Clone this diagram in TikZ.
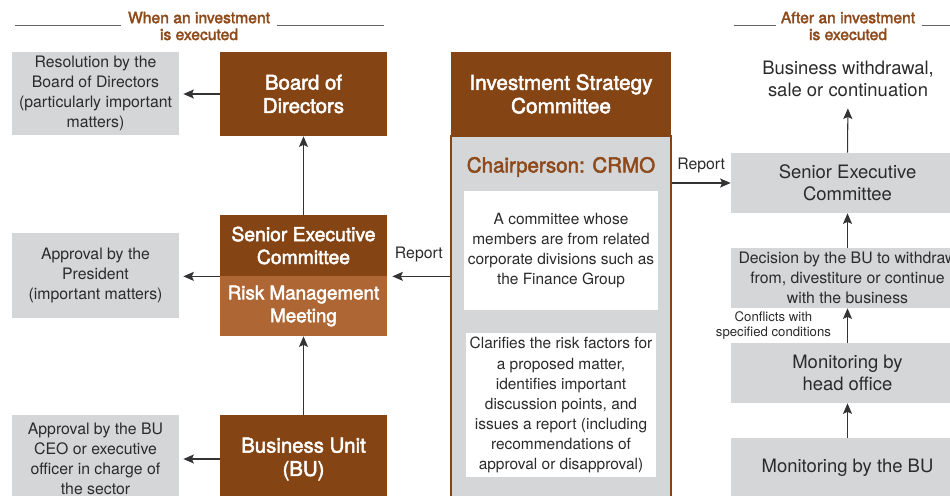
\documentclass[tikz,border=0pt]{standalone}
\usepackage{fontspec}
\setmainfont{TeX Gyre Heros}
\newfontfamily\medfont[FakeBold=2.4]{TeX Gyre Heros}
\usetikzlibrary{positioning, arrows.meta}
\definecolor{brownD}{HTML}{844414}
\definecolor{brownL}{HTML}{AE6734}
\definecolor{hdbrown}{HTML}{8E4A1A}
\definecolor{boxgray}{HTML}{D5D6D8}
\definecolor{txt}{HTML}{2B2B2B}
\definecolor{linegray}{HTML}{333333}
\tikzset{
  gbox/.style={fill=boxgray, text=txt, align=center, inner sep=2pt,
    minimum width=#1, font=\fontsize{9}{11.4}\selectfont},
  gbox/.default=3.34cm,
  bbox/.style={fill=brownD, text=white, align=center, inner sep=2pt,
    minimum width=#1, font=\medfont\fontsize{11.6}{13.3}\selectfont},
  bbox/.default=3.34cm,
  wbox/.style={fill=white, text=txt, align=center, inner sep=2pt,
    minimum width=3.8cm, font=\fontsize{8.8}{11.4}\selectfont},
  big/.style={font=\fontsize{10.5}{12.8}\selectfont},
  hd/.style={text=hdbrown, align=center, inner sep=0pt,
    font=\medfont\fontsize{8.9}{9.6}\selectfont},
  rule/.style={draw=gray!80!black, line width=0.5pt},
  arr/.style={draw=linegray, line width=0.6pt, -{Stealth[length=2.1mm, width=1.8mm, inset=0.4mm]}},
  lbl/.style={text=txt, inner sep=0pt, align=center, font=\fontsize{9}{11}\selectfont},
  small/.style={text=txt, inner sep=0pt, align=center, font=\fontsize{7.5}{8.8}\selectfont},
}

\begin{document}
\begin{tikzpicture}
\useasboundingbox (0,0) rectangle (19,-9.9);
\clip (0,0) rectangle (19,-9.9);

% ── When an investment is executed ──────────────────────────
\node[hd] (hdL) at (3.98,-0.52) {When an investment\\is executed};
\draw[rule] ([xshift=-0.13cm, yshift=0.02cm]hdL.west) -- ++(-2.12,0);
\draw[rule] ([xshift=0.13cm, yshift=0.02cm]hdL.east) -- ++(2.14,0);

\node[gbox, minimum height=1.66cm] (res) at (1.91,-1.87) {Resolution by the\\
  Board of Directors\\ (particularly important\\ matters)};
\node[gbox, minimum height=1.70cm] (pres) at (1.91,-5.51) {Approval by the\\
  President\\ (important matters)};
\node[gbox, minimum height=1.76cm] (buceo) at (1.91,-9.18) {Approval by the BU\\
  CEO or executive\\ officer in charge of\\ the sector};

\node[bbox, minimum height=1.68cm] (bod) at (6.07,-1.88) {Board of\\Directors};
\node[bbox, minimum height=1.22cm, font=\medfont\fontsize{11}{13}\selectfont]
  (sec) at (6.07,-4.91) {Senior Executive\\Committee};
\node[bbox, fill=brownL, minimum height=1.20cm, font=\medfont\fontsize{10.7}{13}\selectfont]
  (rmm) at (6.07,-6.12) {Risk Management\\Meeting};
\node[bbox, minimum height=1.76cm] (bu) at (6.07,-9.18) {Business Unit\\(BU)};

% ── Investment Strategy Committee ───────────────────────────
\node[fill=boxgray, draw=brownD, line width=0.8pt, minimum width=4.4cm,
  minimum height=7.38cm] (iscb) at (11.22,-6.41) {};
\node[bbox=4.4cm, minimum height=1.68cm, font=\medfont\fontsize{11.8}{13.3}\selectfont]
  (isc) at (11.22,-1.88) {Investment Strategy\\Committee};
\node[text=hdbrown, font=\medfont\fontsize{11.7}{13}\selectfont]
  (chair) at (11.22,-3.34) {Chairperson: CRMO};
\node[wbox, minimum height=2.38cm] (memb) at (11.22,-5.01) {A committee whose\\
  members are from related\\ corporate divisions such as\\ the Finance Group};
\node[wbox, minimum height=2.88cm] (role) at (11.22,-8.10) {Clarifies the risk factors for\\
  a proposed matter,\\ identifies important\\ discussion points, and\\
  issues a report (including\\ recommendations of\\ approval or disapproval)};

% ── After an investment is executed ─────────────────────────
\node[hd] (hdR) at (16.96,-0.52) {After an investment\\is executed};
\draw[rule] ([xshift=-0.1cm, yshift=0.02cm]hdR.west) -- ++(-0.84,0);
\draw[rule] ([xshift=0.12cm, yshift=0.02cm]hdR.east) -- ++(1,0);

\node[lbl, big] (outc) at (16.96,-1.58) {Business withdrawal,\\sale or continuation};
\node[gbox=4.66cm, big, minimum height=1.2cm] (sec2) at (16.95,-3.66)
  {Senior Executive\\Committee};
\node[gbox=4.66cm, minimum height=1.2cm] (dec) at (16.95,-5.56)
  {Decision by the BU to withdraw\\from, divestiture or continue\\with the business};
\node[gbox=4.66cm, big, minimum height=1.2cm] (mho) at (16.95,-7.46)
  {Monitoring by\\head office};
\node[gbox=4.66cm, big, minimum height=1.2cm] (mbu) at (16.95,-9.36)
  {Monitoring by the BU};

% ── Arrows ──────────────────────────────────────────────────
\draw[arr, shorten >=0.08cm] (bod.west) -- (res.east |- bod.west);
\draw[arr, shorten >=0.08cm] (sec.south west) -- (pres.east |- sec.south west);
\draw[arr, shorten >=0.08cm] (bu.west) -- (buceo.east |- bu.west);
\draw[arr] (sec.north) -- (bod.south);
\draw[arr] (bu.north) -- (rmm.south);
\draw[arr, shorten >=0.1cm] (iscb.west |- sec.south east) -- (sec.south east)
  node[lbl, midway, above=0.28cm] {Report};
\draw[arr] (iscb.east |- sec2.west) -- (sec2.west)
  node[lbl, midway, above=0.19cm] {Report};
\draw[arr, shorten >=0.22cm] (sec2.north) -- (outc.south);
\draw[arr] (dec.north) -- (sec2.south);
\draw[arr] (mho.north) -- (dec.south)
  node[small, midway, left=0.32cm] {Conflicts with\\specified conditions};
\draw[arr] (mbu.north) -- (mho.south);

\end{tikzpicture}
\end{document}
